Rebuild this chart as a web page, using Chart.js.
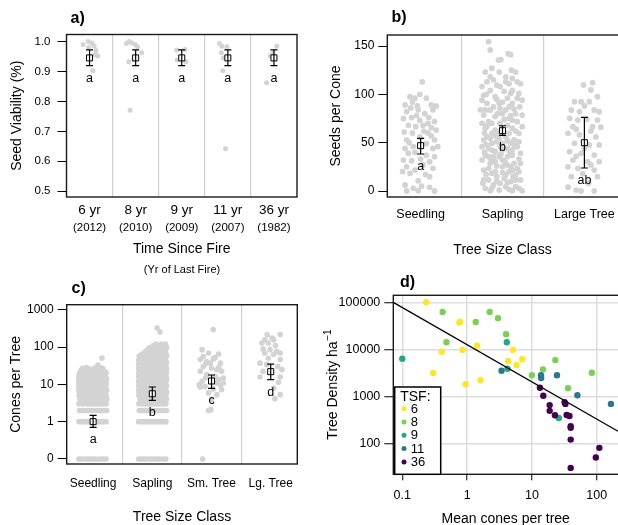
<!DOCTYPE html>
<html>
<head>
<meta charset="utf-8">
<title>Seed viability, seed and cone production, tree density</title>
<script src="https://cdn.jsdelivr.net/npm/chart.js@4.4.1/dist/chart.umd.min.js"></script>
<style>
  html, body { margin: 0; padding: 0; background: #fff; overflow: hidden; }
  #wrap { position: relative; width: 618px; height: 525px; overflow: hidden; }
  canvas { position: absolute; left: 0; top: 0; }
</style>
</head>
<body>
<div id="wrap">
  <canvas id="panelA" width="630" height="525"></canvas>
  <canvas id="panelB" width="630" height="525"></canvas>
  <canvas id="panelC" width="630" height="525"></canvas>
  <canvas id="panelD" width="630" height="525"></canvas>
</div>
<script>
const FONT = "'Liberation Sans', Arial, Helvetica, sans-serif";
const GREY = 'rgb(211,211,211)';
const SEP = 'rgb(208,208,208)';
const ZERO_AT = 0.1; // zero counts sit on the "0" row of the log axis in c)

// ---- a) seed viability by time since fire ----
const fireLabels = ['6 yr', '8 yr', '9 yr', '11 yr', '36 yr'];
const fireYears = ['(2012)', '(2010)', '(2009)', '(2007)', '(1982)'];
const viability = [
  [0.86, 0.99], [0.97, 1.0], [1.05, 0.995], [1.1, 0.985], [1.14, 0.97], [1.18, 0.951], [1.07, 0.902], [0.98, 0.98], [1.12, 0.956],
  [1.80, 0.993], [1.86, 1.0], [1.92, 0.995], [1.99, 0.99], [2.04, 0.982], [2.13, 0.962], [1.85, 0.932], [1.96, 0.94], [1.88, 0.77],
  [2.89, 0.971], [3.07, 0.973], [3.09, 0.932], [2.9, 0.938], [3.0, 0.945],
  [3.82, 0.993], [3.87, 0.984], [3.98, 0.982], [3.86, 0.962], [3.89, 0.902], [3.95, 0.642], [3.9, 0.945],
  [5.06, 0.984], [4.92, 0.951], [4.84, 0.862], [4.98, 0.96]
];
const viabilityMean = [0.945, 0.945, 0.945, 0.945, 0.945];
const viabilityLo = [0.919, 0.919, 0.919, 0.919, 0.919];
const viabilityHi = [0.972, 0.972, 0.972, 0.972, 0.972];
const viabilityGroups = ['a', 'a', 'a', 'a', 'a'];

// ---- b) seeds per cone by tree size ----
const sizeClassB = ['Seedling', 'Sapling', 'Large Tree'];
const seedsSeedling = [
  [1.02, 113], [0.87, 97.5], [0.93, 96], [0.99, 100], [1.07, 96], [0.81, 89], [0.90, 92], [1.13, 89], [1.19, 88], [0.83, 82],
  [0.97, 84], [1.05, 80], [1.15, 84], [0.79, 75], [0.89, 76], [0.99, 73], [1.10, 76], [1.17, 72], [0.85, 68], [0.94, 66.5],
  [1.03, 68], [1.13, 65.5], [0.80, 61], [0.90, 60], [1.09, 60], [1.19, 63], [0.83, 53], [1.17, 53], [0.91, 46], [0.81, 44],
  [1.15, 44], [0.85, 39], [1.07, 37], [1.17, 35.5], [0.79, 32], [0.89, 31.3], [1.11, 30.3], [1.03, 27], [0.83, 25], [1.15, 23.5],
  [0.93, 21.7], [0.87, 18.3], [1.11, 14.8], [0.97, 10.7], [0.81, 6.2], [0.91, 2.8], [0.97, 0.3], [1.11, 3.8], [1.17, 0], [0.83, 0],
  [0.99, 56], [1.07, 49], [0.95, 78], [1.09, 70], [0.86, 50], [1.0, 33], [0.93, 40], [1.13, 57], [0.96, 88], [1.04, 62],
  [0.88, 86], [1.21, 46], [0.78, 20], [1.06, 17], [1.01, 5]
];
const seedsSapling = [
  [1.83, 154.5], [1.85, 146], [1.95, 135.5], [1.98, 136], [2.07, 142], [2.1, 141], [1.79, 123], [2.11, 125], [1.96, 123], [2.04, 118],
  [2.16, 123], [1.89, 115], [1.81, 113], [2.08, 111], [2.18, 113], [1.85, 104], [1.97, 108], [2.12, 104], [2.2, 101], [1.77, 99],
  [1.91, 97.6], [2.06, 96], [1.81, 90.7], [1.96, 90.7], [2.12, 90.7], [2.21, 87], [1.85, 83.8], [2.04, 83.8], [2.16, 80], [1.77, 78.6],
  [1.91, 77], [2.08, 75], [1.83, 71.7], [1.97, 70], [2.18, 71.7], [1.79, 65], [2.12, 65], [1.87, 59.7], [2.04, 56], [2.2, 59.7],
  [1.77, 52.8], [1.93, 51], [2.1, 49.3], [1.83, 44], [2.0, 42.4], [2.18, 45.9], [1.79, 37], [1.96, 35.5], [2.12, 37], [1.85, 28.6],
  [2.06, 27], [2.22, 28.6], [1.77, 21.7], [1.91, 20], [2.12, 21.7], [2.2, 20], [1.83, 11.4], [2.02, 13.1], [2.16, 11.4], [1.79, 2.8],
  [1.85, 0.3], [1.96, 1], [2.08, 1.7], [2.12, 0.3], [2.2, 2.8], [1.87, 127], [1.75, 108], [2.02, 103], [2.24, 94], [1.89, 87],
  [2.08, 87], [1.73, 84], [2.0, 80], [2.24, 78.6], [1.87, 70], [2.06, 68], [1.75, 70], [1.91, 63], [2.02, 61], [2.24, 66.5],
  [1.81, 56], [1.96, 54.5], [2.14, 52.8], [1.87, 49.3], [1.75, 45.9], [2.06, 44], [1.91, 40.7], [2.12, 42.4], [1.83, 35.5], [2.06, 35.5],
  [2.22, 39], [1.75, 32], [1.91, 30.3], [2.14, 28.6], [2.0, 25], [1.83, 23.4], [2.08, 20], [1.93, 14.8], [1.77, 11.4], [2.1, 9.7],
  [2.22, 11.4], [1.89, 6.2], [2.04, 4.5], [2.24, 0.3], [1.75, 94], [2.18, 96], [2.1, 101], [1.93, 109.6], [2.04, 113], [1.85, 118],
  [2.12, 116.6], [2.22, 111], [1.97, 85.5], [1.79, 83.8], [2.12, 73.4], [1.96, 61], [2.08, 59.7], [1.85, 54.5], [2.2, 51], [2.0, 49.3],
  [1.89, 35.5], [2.0, 32], [2.18, 23.4], [1.87, 18.3], [2.04, 16.6], [2.16, 16.6], [1.97, 7.9], [2.16, 4.5], [1.93, 95], [2.0, 92],
  [2.14, 85], [1.8, 100], [1.94, 80], [2.1, 78], [2.02, 74], [1.81, 67], [1.99, 65], [2.16, 62], [1.78, 60], [1.92, 57],
  [2.06, 52], [1.8, 48], [1.97, 46], [2.15, 47], [1.88, 42], [2.09, 40], [1.78, 40], [1.98, 38], [2.2, 33], [1.86, 33],
  [2.03, 30], [1.93, 26], [2.1, 25], [1.8, 17], [2.0, 19], [2.13, 15], [1.93, 10], [2.06, 9], [1.87, 3], [1.76, 8]
];
const seedsLarge = [
  [2.99, 109.7], [3.1, 112], [2.88, 92.4], [2.96, 92.4], [3.06, 92.4], [3.16, 97.5], [2.84, 83.8], [2.94, 82], [3.12, 83.8], [3.18, 82],
  [2.82, 75.2], [2.92, 73.4], [3.03, 74.2], [3.16, 73.4], [2.86, 66.5], [3.1, 66.5], [2.8, 59.7], [2.94, 58], [3.14, 56], [2.88, 49.3],
  [3.06, 47.6], [3.18, 47.6], [2.82, 40.7], [2.96, 39], [3.12, 37.2], [2.86, 32], [3.04, 30.3], [3.18, 30.3], [2.8, 25], [2.92, 23.4],
  [3.12, 21.7], [2.84, 14.8], [3.16, 14.8], [2.9, 1], [2.96, 0], [3.12, 0], [3.08, 104.5], [3.0, 88], [2.9, 64], [3.08, 62],
  [3.0, 44], [2.9, 36], [3.08, 27], [2.98, 18], [3.05, 8], [2.8, 4], [3.2, 66]
];
const seedsMean = [46.9, 62.4, 50];
const seedsLo = [38.3, 57.6, 23.8];
const seedsHi = [54.5, 67.5, 76.2];
const seedsGroups = ['a', 'b', 'ab'];

// ---- c) cones per tree by tree size (dense classes as rows: [cones, x offsets]) ----
const sizeClassC = ['Seedling', 'Sapling', 'Sm. Tree', 'Lg. Tree'];
const conesSeedlingRows = [
  [0, [-0.24, -0.2, -0.15, -0.1, -0.05, -0.01, 0.04, 0.09, 0.14, 0.18, 0.22]],
  [1, [-0.24, -0.19, -0.15, -0.1, -0.06, -0.01, 0.03, 0.08, 0.13, 0.17, 0.22]],
  [2, [-0.23, -0.19, -0.14, -0.09, -0.05, 0, 0.05, 0.1, 0.14, 0.19, 0.23]],
  [3, [-0.24, -0.18, -0.13, -0.08, -0.03, 0.02, 0.07, 0.12, 0.17, 0.22]],
  [4, [-0.22, -0.16, -0.11, -0.06, -0.01, 0.04, 0.09, 0.14, 0.19, 0.23]],
  [5, [-0.24, -0.19, -0.13, -0.08, -0.03, 0.02, 0.08, 0.13, 0.18, 0.22]],
  [6, [-0.23, -0.17, -0.12, -0.07, -0.02, 0.03, 0.09, 0.14, 0.2]],
  [7, [-0.24, -0.18, -0.13, -0.08, -0.03, 0.03, 0.08, 0.13, 0.18, 0.23]],
  [8, [-0.22, -0.16, -0.1, -0.05, 0, 0.06, 0.11, 0.16, 0.21]],
  [9, [-0.24, -0.19, -0.13, -0.07, -0.02, 0.04, 0.09, 0.15, 0.2]],
  [10, [-0.23, -0.17, -0.11, -0.06, 0, 0.05, 0.11, 0.17, 0.22]],
  [11, [-0.24, -0.18, -0.12, -0.06, 0.01, 0.07, 0.13, 0.19]],
  [12, [-0.22, -0.16, -0.1, -0.03, 0.03, 0.09, 0.15, 0.21]],
  [13, [-0.24, -0.17, -0.11, -0.05, 0.02, 0.08, 0.14, 0.2]],
  [14, [-0.22, -0.15, -0.09, -0.02, 0.05, 0.11, 0.17, 0.23]],
  [15, [-0.23, -0.16, -0.1, -0.03, 0.04, 0.1, 0.16]],
  [16, [-0.21, -0.14, -0.07, 0, 0.06, 0.12, 0.19]],
  [17, [-0.24, -0.17, -0.1, -0.03, 0.04, 0.11, 0.2]],
  [18, [-0.22, -0.15, -0.08, 0.02, 0.09, 0.15]],
  [19, [-0.2, -0.12, -0.05, 0.03, 0.1, 0.18]],
  [20, [-0.23, -0.16, -0.08, 0, 0.07, 0.14, 0.22]],
  [21, [-0.19, -0.1, -0.02, 0.06, 0.13]],
  [22, [-0.21, -0.13, -0.04, 0.05, 0.12, 0.2]],
  [23, [-0.17, -0.06, 0.04, 0.15]],
  [24, [-0.2, -0.11, -0.01, 0.08, 0.17]],
  [25, [-0.15, -0.04, 0.1]],
  [26, [-0.08, 0.06]],
  [27, [-0.18, 0.02, 0.16]],
  [28, [-0.11, 0.11]],
  [33, [0.08]],
  [51, [0.15]]
];
const conesSaplingRows = [
  [0, [-0.23, -0.19, -0.14, -0.1, -0.05, -0.01, 0.04, 0.09, 0.13, 0.18, 0.23]],
  [1, [-0.23, -0.18, -0.14, -0.09, -0.04, 0, 0.05, 0.1, 0.14, 0.19, 0.23]],
  [2, [-0.22, -0.18, -0.13, -0.08, -0.04, 0.01, 0.06, 0.1, 0.15, 0.19, 0.24]],
  [3, [-0.23, -0.17, -0.12, -0.07, -0.02, 0.03, 0.08, 0.13, 0.18, 0.23]],
  [4, [-0.21, -0.16, -0.11, -0.06, -0.01, 0.04, 0.09, 0.14, 0.19, 0.24]],
  [5, [-0.23, -0.18, -0.12, -0.07, -0.02, 0.03, 0.09, 0.14, 0.19, 0.23]],
  [6, [-0.22, -0.16, -0.11, -0.06, 0, 0.05, 0.1, 0.15, 0.2, 0.24]],
  [7, [-0.23, -0.18, -0.13, -0.08, -0.02, 0.03, 0.08, 0.13, 0.18, 0.23]],
  [8, [-0.21, -0.15, -0.1, -0.05, 0.01, 0.06, 0.11, 0.16, 0.21]],
  [9, [-0.23, -0.18, -0.12, -0.06, -0.01, 0.04, 0.1, 0.15, 0.2, 0.24]],
  [10, [-0.22, -0.16, -0.1, -0.05, 0.01, 0.07, 0.12, 0.17, 0.22]],
  [12, [-0.23, -0.17, -0.11, -0.05, 0, 0.06, 0.11, 0.17, 0.23]],
  [14, [-0.21, -0.15, -0.09, -0.03, 0.03, 0.08, 0.14, 0.19, 0.24]],
  [16, [-0.23, -0.17, -0.11, -0.05, 0.01, 0.07, 0.13, 0.18, 0.23]],
  [18, [-0.22, -0.16, -0.1, -0.04, 0.02, 0.08, 0.14, 0.2]],
  [20, [-0.23, -0.17, -0.11, -0.05, 0.01, 0.07, 0.13, 0.19, 0.24]],
  [23, [-0.21, -0.15, -0.09, -0.03, 0.04, 0.1, 0.16, 0.22]],
  [26, [-0.23, -0.17, -0.1, -0.04, 0.02, 0.08, 0.14, 0.2, 0.24]],
  [30, [-0.22, -0.15, -0.09, -0.02, 0.05, 0.11, 0.17, 0.23]],
  [34, [-0.23, -0.16, -0.1, -0.03, 0.03, 0.09, 0.15, 0.21]],
  [39, [-0.21, -0.14, -0.07, 0, 0.06, 0.12, 0.18, 0.24]],
  [44, [-0.23, -0.16, -0.09, -0.02, 0.04, 0.11, 0.17, 0.22]],
  [50, [-0.2, -0.13, -0.06, 0.01, 0.08, 0.14, 0.2]],
  [57, [-0.22, -0.15, -0.07, 0, 0.06, 0.13, 0.19, 0.24]],
  [65, [-0.17, -0.09, -0.02, 0.05, 0.12, 0.18, 0.23]],
  [74, [-0.12, -0.04, 0.03, 0.1, 0.16, 0.22]],
  [84, [-0.08, 0, 0.08, 0.15, 0.21]],
  [95, [-0.05, 0.04, 0.12, 0.19, 0.24]],
  [108, [0.01, 0.1, 0.17, 0.23]],
  [120, [0.06, 0.15, 0.22]],
  [254, [0.13]],
  [324, [0.08]]
];
const conesSmTree = [
  [3.03, 293], [2.84, 85], [2.95, 69], [3.12, 65], [2.81, 46], [2.92, 41], [3.03, 48], [3.15, 37], [2.86, 30], [3.0, 27.5],
  [3.09, 24.7], [2.81, 22.3], [3.17, 22.3], [2.92, 18.2], [3.2, 14.8], [2.84, 12], [3.09, 10.9], [3.15, 9.8], [2.89, 8.8], [3.03, 7.5],
  [3.17, 7.2], [2.95, 5.9], [3.09, 5.3], [3.0, 3.9], [2.99, 2.1], [2.95, 2.0], [2.85, 0], [2.86, 56], [2.98, 37], [3.06, 16.4],
  [3.12, 13.4], [2.81, 8.5], [3.2, 10.9], [2.79, 9.8], [2.9, 35], [3.12, 28], [3.06, 52], [2.9, 15], [3.02, 12]
];
const conesLgTree = [
  [3.94, 215], [4.16, 215], [4.05, 157], [3.85, 128], [3.96, 128], [3.87, 89], [3.99, 85], [4.1, 77], [3.9, 69], [4.05, 63],
  [4.16, 69], [3.82, 37], [3.93, 33.7], [4.19, 24.8], [3.82, 15.8], [4.16, 15.8], [4.13, 11.3], [4.05, 8], [4.16, 5.3], [4.07, 4.1],
  [4.02, 175], [3.9, 157], [4.16, 46], [3.87, 22.3], [4.08, 110], [3.96, 50], [4.12, 30]
];
const conesMean = [1.0, 5.6, 12.3, 21.9];
const conesLo = [0.70, 3.7, 7.8, 13.4];
const conesHi = [1.48, 8.5, 17.8, 35];
const conesGroups = ['a', 'b', 'c', 'd'];

// ---- d) tree density vs mean cones per tree, by time since fire ----
const tsfLabels = ['6', '8', '9', '11', '36'];
const tsf6 = [[0.234, 100000], [0.76, 37000], [0.78, 38500], [0.405, 8900], [0.85, 9700], [1.43, 12000], [0.30, 3150], [0.95, 1800],
  [1.61, 2200], [4.3, 5650], [5.1, 9700], [5.8, 4650], [7.1, 6130]];
const tsf8 = [[0.42, 62000], [0.48, 14100], [1.36, 38000], [2.23, 62000], [3.0, 46000], [4.0, 21000], [10, 2800], [14.8, 3750],
  [23, 5900], [36, 1480], [84, 3160]];
const tsf9 = [[0.1, 6300], [4.1, 14100], [4.2, 3850], [26, 345]];
const tsf11 = [[3.4, 3500], [13.8, 2800], [13.9, 2460], [24.4, 2800], [50.4, 1050], [166, 690]];
const tsf36 = [[13.3, 1520], [15, 1030], [18.8, 650], [18.8, 490], [22.7, 394], [32, 745], [32.9, 690], [34.4, 400], [38, 380],
  [39.7, 230], [39.7, 215], [39.7, 120], [39.7, 30], [110, 80], [97, 50]];
const fitLine = [[0.0726, 100000], [213, 180]];

const toXY = arr => arr.map(([x, y]) => ({ x, y }));
const rowsToXY = (rows, centre) => rows.flatMap(([v, offs]) => offs.map(dx => ({ x: centre + dx, y: v === 0 ? ZERO_AT : v })));

const panelDecor = {
  id: 'panelDecor',
  afterDatasetsDraw(chart, args, o) {
    if (!o.bars) return;
    const { ctx, scales: { x, y } } = chart;
    ctx.save();
    ctx.strokeStyle = '#000';
    ctx.lineWidth = 1.2;
    ctx.fillStyle = '#000';
    ctx.font = '12.5px ' + FONT;
    ctx.textAlign = 'center';
    ctx.textBaseline = 'middle';
    o.bars.lo.forEach((lo, i) => {
      const px = x.getPixelForValue(i + 1);
      const y1 = y.getPixelForValue(lo);
      const y2 = y.getPixelForValue(o.bars.hi[i]);
      ctx.beginPath();
      ctx.moveTo(px, y1); ctx.lineTo(px, y2);
      ctx.moveTo(px - 3.5, y1); ctx.lineTo(px + 3.5, y1);
      ctx.moveTo(px - 3.5, y2); ctx.lineTo(px + 3.5, y2);
      ctx.stroke();
      ctx.fillText(o.bars.groups[i], px, y1 + 12.5);
    });
    ctx.restore();
  },
  afterDraw(chart, args, o) {
    const { ctx, chartArea: a } = chart;
    ctx.save();
    ctx.strokeStyle = '#1a1a1a';
    ctx.lineWidth = 1.4;
    ctx.strokeRect(a.left, a.top, a.right - a.left, a.bottom - a.top);
    ctx.fillStyle = '#000';
    ctx.textBaseline = 'middle';

    ctx.font = 'bold 16px ' + FONT;
    ctx.textAlign = 'left';
    ctx.fillText(o.letter[0], o.letter[1], o.letter[2]);

    ctx.textAlign = 'center';
    ctx.font = '14px ' + FONT;
    ctx.fillText(o.xTitle[0], o.xTitle[1], o.xTitle[2]);
    if (o.xNote) {
      ctx.font = '11px ' + FONT;
      ctx.fillText(o.xNote[0], o.xNote[1], o.xNote[2]);
    }
    if (o.tickSub) {
      ctx.font = '11.5px ' + FONT;
      o.tickSub.labels.forEach((t, i) => ctx.fillText(t, chart.scales.x.getPixelForValue(i + 1), o.tickSub.y));
    }

    // rotated y title, optional superscript
    ctx.save();
    ctx.translate(o.yTitle[1], o.yTitle[2]);
    ctx.rotate(-Math.PI / 2);
    ctx.font = '14px ' + FONT;
    const w = ctx.measureText(o.yTitle[0]).width;
    let ws = 0;
    if (o.yTitle[3]) {
      ctx.font = '10px ' + FONT;
      ws = ctx.measureText(o.yTitle[3]).width;
    }
    ctx.textAlign = 'left';
    ctx.font = '14px ' + FONT;
    ctx.fillText(o.yTitle[0], -(w + ws) / 2, 0);
    if (o.yTitle[3]) {
      ctx.font = '10px ' + FONT;
      ctx.fillText(o.yTitle[3], -(w + ws) / 2 + w + 0.5, -5);
    }
    ctx.restore();

    if (o.legend) {
      const bx = a.left + 1.4, bh = 87.3, by = a.bottom - bh, bw = 46;
      ctx.fillStyle = '#fff';
      ctx.fillRect(bx, by, bw, bh);
      ctx.strokeStyle = '#000';
      ctx.lineWidth = 1.5;
      ctx.strokeRect(bx, by, bw, bh);
      ctx.fillStyle = '#000';
      ctx.textAlign = 'left';
      ctx.font = '14px ' + FONT;
      ctx.fillText(o.legend, bx + 5.5, by + 10.5);
      ctx.font = '13px ' + FONT;
      chart.data.datasets.filter(d => d.label).forEach((d, i) => {
        const cy = by + 21.7 + i * 13.3;
        ctx.fillStyle = d.backgroundColor;
        ctx.beginPath();
        ctx.arc(bx + 9.3, cy, 2.5, 0, Math.PI * 2);
        ctx.fill();
        ctx.fillStyle = '#000';
        ctx.fillText(d.label, bx + 16, cy + 0.5);
      });
    }
    ctx.restore();
  }
};

function stripChart(id, c) {
  const log = c.yType === 'logarithmic';
  return new Chart(document.getElementById(id), {
    type: 'scatter',
    plugins: [panelDecor],
    data: {
      datasets: [
        {
          data: c.mean.map((m, i) => ({ x: i + 1, y: m })),
          pointStyle: 'rect', pointRadius: 4.25, borderColor: '#000', borderWidth: 1,
          backgroundColor: '#fff', order: 0
        },
        {
          data: c.points,
          pointRadius: c.dot, backgroundColor: GREY, borderWidth: 0, order: 1
        }
      ]
    },
    options: {
      responsive: false, animation: false, events: [], devicePixelRatio: 1,
      layout: { padding: c.pad },
      plugins: { legend: { display: false }, tooltip: { enabled: false }, panelDecor: c.decor },
      scales: {
        x: {
          type: 'linear', min: c.xMin, max: c.xMax,
          afterBuildTicks: s => { s.ticks = c.cats.flatMap((_, i) => i ? [{ value: i + 0.5 }, { value: i + 1 }] : [{ value: 1 }]); },
          afterFit: s => { s.height = 40; },
          grid: { color: g => (g.tick && g.tick.value % 1 ? SEP : 'rgba(0,0,0,0)'), lineWidth: 1.2, drawTicks: false },
          border: { display: false },
          ticks: {
            callback: v => (v % 1 ? '' : c.cats[v - 1]),
            font: { family: FONT, size: c.xFont }, color: '#000', padding: c.xPad, maxRotation: 0, autoSkip: false
          }
        },
        y: {
          type: log ? 'logarithmic' : 'linear', min: c.yMin, max: c.yMax,
          afterBuildTicks: s => { s.ticks = c.yTicks.map(v => ({ value: v })); },
          afterFit: s => { s.width = 50; },
          grid: { drawOnChartArea: false, tickLength: 9, tickColor: '#000', tickWidth: 1 },
          border: { display: false },
          ticks: { callback: c.yLabel, font: { family: FONT, size: c.yFont }, color: '#000', padding: c.yPad, autoSkip: false }
        }
      }
    }
  });
}

stripChart('panelA', {
  cats: fireLabels, mean: viabilityMean, points: toXY(viability), dot: 2.5,
  pad: { left: 16.5, top: 34.5, right: 333, bottom: 288 },
  xMin: 0.5, xMax: 5.5, xFont: 13.5, xPad: 5,
  yMin: 0.481, yMax: 1.023, yTicks: [0.5, 0.6, 0.7, 0.8, 0.9, 1.0], yLabel: v => v.toFixed(1), yFont: 11.5, yPad: 7,
  decor: {
    letter: ['a)', 70.5, 19],
    xTitle: ['Time Since Fire', 181.7, 249.3],
    xNote: ['(Yr of Last Fire)', 182, 269.5],
    tickSub: { labels: fireYears, y: 227.7 },
    yTitle: ['Seed Viability (%)', 16.7, 115.7],
    bars: { lo: viabilityLo, hi: viabilityHi, groups: viabilityGroups }
  }
});

stripChart('panelB', {
  cats: sizeClassB, mean: seedsMean, points: toXY([...seedsSeedling, ...seedsSapling, ...seedsLarge]), dot: 2.9,
  pad: { left: 337.3, top: 35, right: 10, bottom: 288 },
  xMin: 0.593, xMax: 3.435, xFont: 12.5, xPad: 10.5,
  yMin: -6.2, yMax: 161.4, yTicks: [0, 50, 100, 150], yLabel: v => String(v), yFont: 12, yPad: 4,
  decor: {
    letter: ['b)', 391.5, 17.5],
    xTitle: ['Tree Size Class', 502.5, 250],
    yTitle: ['Seeds per Cone', 336, 116],
    bars: { lo: seedsLo, hi: seedsHi, groups: seedsGroups }
  }
});

stripChart('panelC', {
  cats: sizeClassC, mean: conesMean,
  points: [...rowsToXY(conesSeedlingRows, 1), ...rowsToXY(conesSaplingRows, 2),
    ...[...conesSmTree, ...conesLgTree].map(([x, y]) => ({ x, y: y === 0 ? ZERO_AT : y }))],
  dot: 2.8, yType: 'logarithmic',
  pad: { left: 16.7, top: 304.7, right: 332.7, bottom: 21 },
  xMin: 0.554, xMax: 4.449, xFont: 12, xPad: 12.5,
  yMin: 0.0734, yMax: 1362, yTicks: [0.1, 1, 10, 100, 1000], yLabel: v => (v === ZERO_AT ? '0' : String(v)), yFont: 12, yPad: 4,
  decor: {
    letter: ['c)', 71.5, 288.5],
    xTitle: ['Tree Size Class', 182, 517],
    yTitle: ['Cones per Tree', 16.5, 384.4],
    bars: { lo: conesLo, hi: conesHi, groups: conesGroups }
  }
});

const tsfSeries = [tsf6, tsf8, tsf9, tsf11, tsf36];
const tsfColors = ['#FDE725', '#7AD151', '#22A884', '#2A788E', '#440154'];
new Chart(document.getElementById('panelD'), {
  type: 'scatter',
  plugins: [panelDecor],
  data: {
    datasets: [
      { data: toXY(fitLine), showLine: true, borderColor: '#000', borderWidth: 1.3, pointRadius: 0, order: 0 },
      ...tsfSeries.map((s, i) => ({
        label: tsfLabels[i], data: toXY(s), backgroundColor: tsfColors[i], borderWidth: 0, pointRadius: 3.2, order: 5 - i
      }))
    ]
  },
  options: {
    responsive: false, animation: false, events: [], devicePixelRatio: 1,
    layout: { padding: { left: 323.3, top: 295.3, right: 10, bottom: 10.7 } },
    plugins: {
      legend: { display: false }, tooltip: { enabled: false },
      panelDecor: {
        letter: ['d)', 400, 283],
        xTitle: ['Mean cones per tree', 505.7, 518.7],
        yTitle: ['Tree Density ha', 333, 384.8, '\u22121'],
        legend: 'TSF:'
      }
    },
    scales: {
      x: {
        type: 'logarithmic', min: 0.0726, max: 229,
        afterBuildTicks: s => { s.ticks = [0.1, 1, 10, 100].map(v => ({ value: v })); },
        afterFit: s => { s.height = 40; },
        grid: { color: 'rgb(221,221,221)', lineWidth: 1.5, tickLength: 6, tickColor: '#000', tickWidth: 1 },
        border: { display: false },
        ticks: { callback: v => String(v), font: { family: FONT, size: 12.5 }, color: '#000', padding: 7.5, maxRotation: 0, autoSkip: false }
      },
      y: {
        type: 'logarithmic', min: 21.9, max: 141000,
        afterBuildTicks: s => { s.ticks = [100, 1000, 10000, 100000].map(v => ({ value: v })); },
        afterFit: s => { s.width = 70; },
        grid: { color: 'rgb(221,221,221)', lineWidth: 1.5, tickLength: 9, tickColor: '#000', tickWidth: 1 },
        border: { display: false },
        ticks: { callback: v => String(v), font: { family: FONT, size: 12.5 }, color: '#000', padding: 4, autoSkip: false }
      }
    }
  }
});
</script>
</body>
</html>
